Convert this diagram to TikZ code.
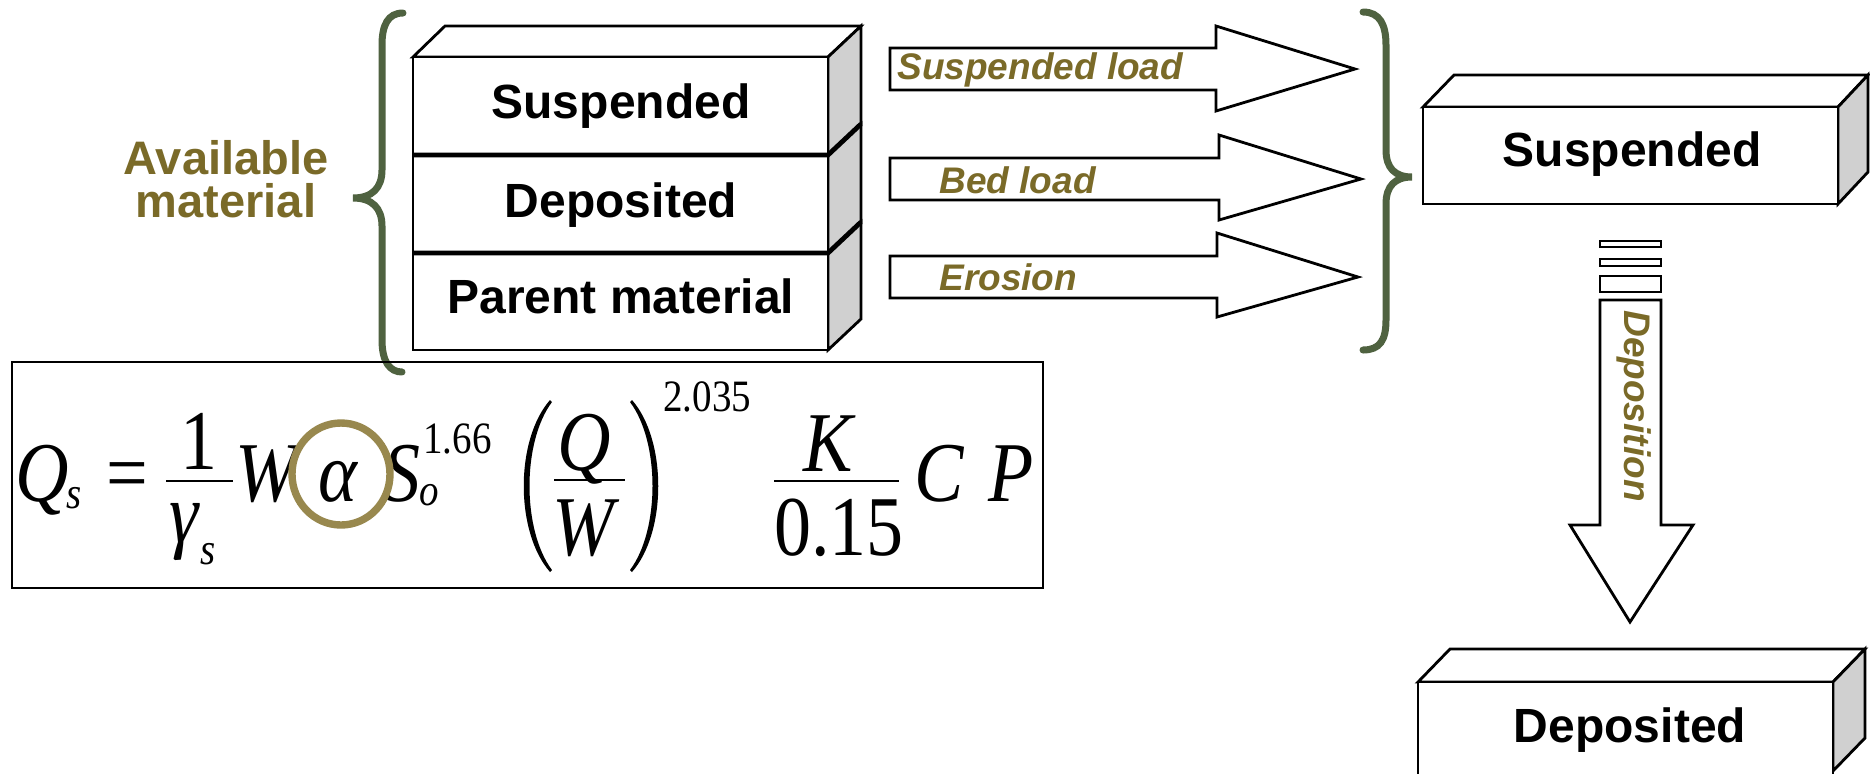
\documentclass[tikz,border=0pt]{standalone}
\usepackage{fontspec}
\setmainfont{Liberation Serif}
\newfontfamily\arialf{Liberation Sans}
\definecolor{olivetxt}{RGB}{122,106,40}
\definecolor{bracegreen}{RGB}{79,98,64}
\definecolor{circlecol}{RGB}{152,136,78}
\definecolor{sidegrey}{RGB}{208,208,208}
\newcommand\fstr[1]{\scalebox{1}[1.15]{#1}}
\begin{document}
\begin{tikzpicture}[x=0.5pt,y=-0.5pt,
  edge/.style={draw=black, line width=1.4pt, line join=miter},
  boxlabel/.style={font=\arialf\bfseries\fontsize{24}{28}\selectfont, inner sep=0, anchor=base},
  avail/.style={font=\arialf\bfseries\fontsize{23.5}{28}\selectfont, text=olivetxt, inner sep=0, anchor=base},
  flowlabel/.style={font=\arialf\bfseries\itshape\fontsize{18.5}{22}\selectfont, text=olivetxt, inner sep=0, anchor=base west},
  brace/.style={draw=bracegreen, line width=3.5pt, line cap=round},
  fml/.style={inner sep=0, anchor=base west, font=\fontsize{37}{40}\selectfont\itshape},
  fmlup/.style={inner sep=0, anchor=base west, font=\fontsize{37}{40}\selectfont},
  fmlsc/.style={inner sep=0, anchor=base west, font=\fontsize{19.5}{22}\selectfont},
  fmlsci/.style={inner sep=0, anchor=base west, font=\fontsize{19.5}{22}\selectfont\itshape},
  fbar/.style={draw=black, line width=1pt}]
\useasboundingbox (0,0) rectangle (1870,773);
\clip (0,0) rectangle (1870,773);
\fill[white] (0,0) rectangle (1870,773);

% ---------- left stack ----------
\draw[edge, fill=white] (413,57) -- (445,26) -- (861,26) -- (828,57) -- cycle;
\draw[edge, fill=sidegrey] (828,57) -- (861,26) -- (861,124) -- (828,155) -- cycle;
\draw[edge, fill=sidegrey] (828,155) -- (861,124) -- (861,222) -- (828,253) -- cycle;
\draw[edge, fill=sidegrey] (828,253) -- (861,222) -- (861,319) -- (828,350) -- cycle;
\draw[edge, fill=white] (413,57) rectangle (828,155);
\draw[edge, fill=white] (413,155) rectangle (828,253);
\draw[edge, fill=white] (413,253) rectangle (828,350);
\draw[black, line width=2.4pt] (413,155) -- (828,155) -- (861,124);
\draw[black, line width=2.4pt] (413,253) -- (828,253) -- (861,222);
\node[boxlabel] (l1) at (621,118) {Suspended};
\node[boxlabel] (l2) at (621,217) {Deposited};
\node[boxlabel] (l3) at (621,313) {Parent material};

% ---------- left brace and label ----------
\draw[brace] (403,13) .. controls (388,13) and (382,25) .. (382,45) -- (382,170)
  .. controls (382,188) and (372,198) .. (353,198)
  .. controls (372,198) and (382,208) .. (382,226) -- (382,340)
  .. controls (382,362) and (390,372) .. (402,372);
\node[avail] (av) at (226,174) {Available};
\node[avail] (mat) at (226,217) {material};

% ---------- block arrows ----------
\draw[edge, fill=white] (890,48) -- (1216,48) -- (1216,26) -- (1355,69) -- (1216,111) -- (1216,90) -- (890,90) -- cycle;
\draw[edge, fill=white] (890,158) -- (1219,158) -- (1219,135) -- (1361,179) -- (1219,220) -- (1219,200) -- (890,200) -- cycle;
\draw[edge, fill=white] (890,256) -- (1217,256) -- (1217,233) -- (1358,277) -- (1217,317) -- (1217,298) -- (890,298) -- cycle;
\node[flowlabel] (fl1) at (897,79) {Suspended load};
\node[flowlabel] (fl2) at (939,193) {Bed load};
\node[flowlabel] (fl3) at (939,290) {Erosion};

% ---------- right brace ----------
\draw[brace] (1363,12) .. controls (1380,12) and (1386,25) .. (1386,45) -- (1386,150)
  .. controls (1386,168) and (1395,177) .. (1412,177)
  .. controls (1395,177) and (1386,186) .. (1386,204) -- (1386,320)
  .. controls (1386,340) and (1380,350) .. (1363,350);

% ---------- right Suspended box ----------
\draw[edge, fill=white] (1423,107) -- (1454,75) -- (1868,75) -- (1838,107) -- cycle;
\draw[edge, fill=sidegrey] (1838,107) -- (1868,75) -- (1868,172) -- (1838,204) -- cycle;
\draw[edge, fill=white] (1423,107) rectangle (1838,204);
\node[boxlabel] (r1) at (1632,166) {Suspended};

% ---------- deposition arrow ----------
\draw[edge, line width=1.2pt, fill=white] (1600,241) rectangle (1661,247);
\draw[edge, line width=1.2pt, fill=white] (1600,259) rectangle (1661,266);
\draw[edge, line width=1.2pt, fill=white] (1600,276) rectangle (1661,292);
\draw[edge, fill=white] (1600,300) -- (1661,300) -- (1661,525) -- (1693,525) -- (1630,622) -- (1570,525) -- (1600,525) -- cycle;
\node[flowlabel, anchor=center, rotate=-90] (dep) at (1634,406) {Deposition};

% ---------- Deposited box ----------
\draw[edge, fill=white] (1418,682) -- (1450,649) -- (1865,649) -- (1833,682) -- cycle;
\draw[edge, fill=sidegrey] (1833,682) -- (1865,649) -- (1865,738) -- (1833,771) -- cycle;
\draw[edge, fill=white] (1418,682) rectangle (1833,790);
\node[boxlabel] (r2) at (1630,742) {Deposited};

% ---------- formula ----------
\draw[draw=black, line width=1.2pt] (12,362) rectangle (1043,588);
\node[fml] (fq) at (15,501) {\fstr{Q}\kern-1pt\raisebox{-3.5pt}{\fontsize{19.5}{22}\selectfont\fstr{s}}};
\node[fmlup] (feq) at (106,501) {\fstr{=}};
\node[fmlup, anchor=base] (fone) at (199,469) {\fstr{1}};
\draw[fbar] (166,481) -- (233,481);
\node[fml] (fgam) at (169,542) {\fstr{γ}\kern1pt\raisebox{-11pt}{\fontsize{19.5}{22}\selectfont\fstr{s}}};
\node[fml] (fw) at (235,501) {\fstr{W}};
\node[fml] (fal) at (318,501) {\fstr{α}};
\node[fml] (fs) at (383,501) {\fstr{S}};
\node[fmlsc] (fe1) at (423,453) {\fstr{1.66}};
\node[fmlsci] (fso) at (419,505) {\fstr{o}};
\fill[black] (550,400) .. controls (515,440) and (515,532) .. (550,572) -- (552,570)
  .. controls (522,530) and (522,442) .. (552,402) -- cycle;
\fill[black] (632,400) .. controls (667,440) and (667,532) .. (632,572) -- (630,570)
  .. controls (660,530) and (660,442) .. (630,402) -- cycle;
\node[fml] (fq2) at (557,470) {\fstr{Q}};
\draw[fbar] (554,480) -- (625,480);
\node[fml] (fw2) at (552,555) {\fstr{W}};
\node[fmlsc] (fe2) at (663,411) {\fstr{2.035}};
\node[fml] (fk) at (803,471) {\fstr{K}};
\draw[fbar] (774,481) -- (899,481);
\node[fmlup] (f015) at (774,555) {\fstr{0.15}};
\node[fml] (fc) at (914,501) {\fstr{C}};
\node[fml] (fp) at (988,501) {\fstr{P}};
\draw[draw=circlecol, line width=3.7pt] (341,474) ellipse [x radius=49, y radius=51];
\end{tikzpicture}
\end{document}
